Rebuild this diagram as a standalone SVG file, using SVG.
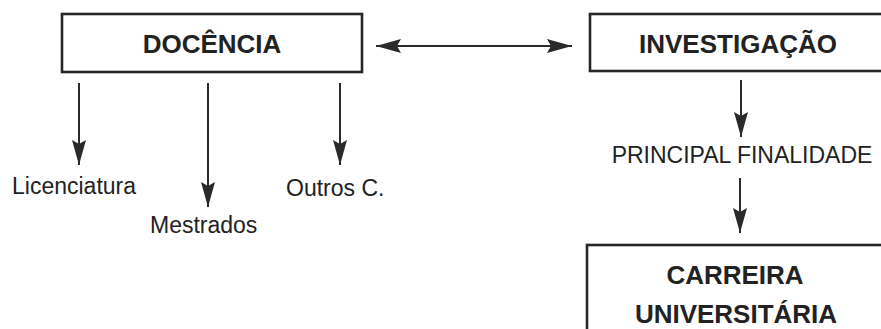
<svg xmlns="http://www.w3.org/2000/svg" width="881" height="329" viewBox="0 0 881 329">
<style>
.box{fill:#fff;stroke:#262626;stroke-width:2.6}
.t{font-family:"Liberation Sans",Arial,sans-serif;fill:#222}
.b{font-weight:bold;font-size:26px;text-anchor:middle}
.r{font-size:23px}
.c{stroke:#2a2a2a;stroke-width:2;fill:none}
</style>
<defs>
<marker id="ah" markerUnits="userSpaceOnUse" markerWidth="26" markerHeight="16" viewBox="0 0 26 16" refX="25" refY="8" orient="auto-start-reverse">
<path d="M0,1 L25,8 L0,15 L4,8 z" fill="#2a2a2a"/>
</marker>
</defs>
<rect width="881" height="329" fill="#fff"/>
<g id="connectors">
<line class="c" x1="376" y1="46" x2="572" y2="46" marker-start="url(#ah)" marker-end="url(#ah)"/>
<line class="c" x1="79" y1="83" x2="79" y2="165" marker-end="url(#ah)"/>
<line class="c" x1="208" y1="83" x2="208" y2="207" marker-end="url(#ah)"/>
<line class="c" x1="340" y1="83" x2="340" y2="165" marker-end="url(#ah)"/>
<line class="c" x1="741" y1="80" x2="741" y2="137" marker-end="url(#ah)"/>
<line class="c" x1="740" y1="178" x2="740" y2="233" marker-end="url(#ah)"/>
</g>
<g id="docencia">
<rect class="box" x="62" y="14" width="300" height="58"/>
<text class="t b" x="212" y="53">DOCÊNCIA</text>
</g>
<g id="investigacao">
<rect class="box" x="590" y="14" width="300" height="57"/>
<text class="t b" x="738" y="53">INVESTIGAÇÃO</text>
</g>
<g id="licenciatura">
<text class="t r" x="12" y="194">Licenciatura</text>
</g>
<g id="mestrados">
<text class="t r" x="150" y="233">Mestrados</text>
</g>
<g id="outros">
<text class="t r" x="286" y="196">Outros C.</text>
</g>
<g id="finalidade">
<text class="t r" x="742" y="163" text-anchor="middle">PRINCIPAL FINALIDADE</text>
</g>
<g id="carreira">
<rect class="box" x="587" y="245" width="300" height="100"/>
<text class="t b" x="735" y="284">CARREIRA</text>
<text class="t b" x="736" y="323">UNIVERSITÁRIA</text>
</g>
</svg>
